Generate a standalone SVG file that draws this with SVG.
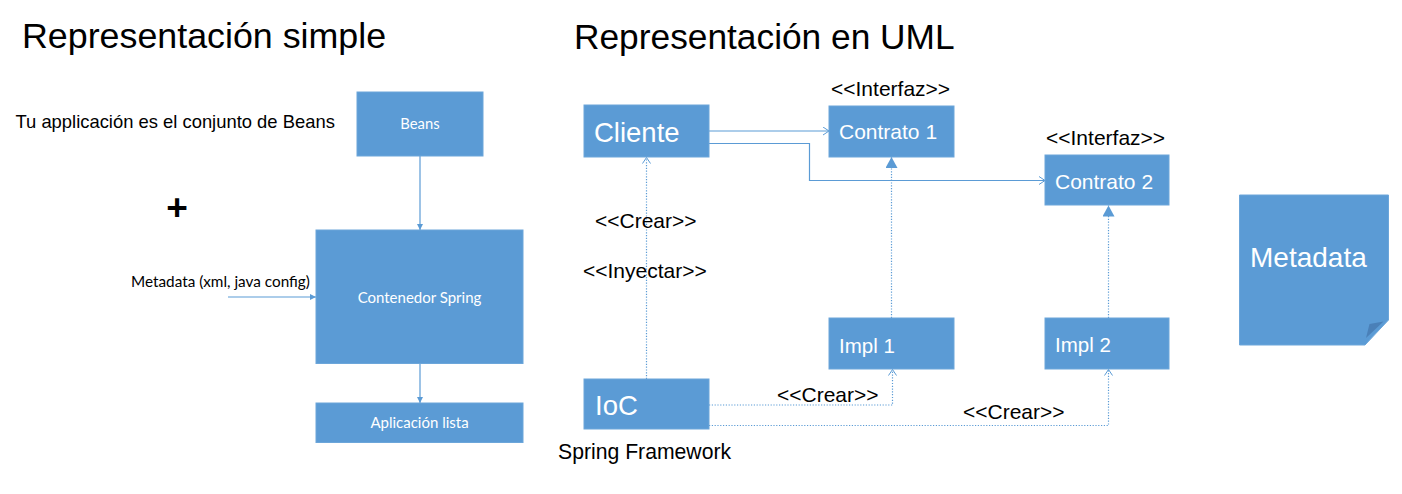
<svg xmlns="http://www.w3.org/2000/svg" width="1402" height="494" viewBox="0 0 1402 494">
<style>
.bg{fill:#ffffff}
.box{fill:#5B9BD5;stroke:#6CA6DA;stroke-width:1}
.t{font-family:"Liberation Sans",Arial,sans-serif;fill:#000000}
.w{font-family:"Liberation Sans",Arial,sans-serif;fill:#ffffff}
.c{font-family:Lato,"Liberation Sans",sans-serif}
.ln{fill:none;stroke:#5B9BD5;stroke-width:1.2}
.dot{fill:none;stroke:#5B9BD5;stroke-width:1.2;stroke-dasharray:1.2 1.6}
</style>
<defs>
<marker id="tri" markerUnits="userSpaceOnUse" markerWidth="7" markerHeight="6" refX="6" refY="3" orient="auto"><path d="M0,0 L6,3 L0,6 z" fill="#5B9BD5"/></marker>
<marker id="open" markerUnits="userSpaceOnUse" markerWidth="8" markerHeight="10" refX="6.5" refY="4.5" orient="auto"><path d="M0.5,0.5 L6.5,4.5 L0.5,8.5" fill="none" stroke="#5B9BD5" stroke-width="1"/></marker>
<marker id="inh" markerUnits="userSpaceOnUse" markerWidth="12" markerHeight="13" refX="11" refY="6" orient="auto"><path d="M0,0 L11,6 L0,12 z" fill="#5B9BD5"/></marker>
</defs>
<rect class="bg" x="0" y="0" width="1402" height="494"/>

<text class="t" x="22" y="48" font-size="35.8">Representación simple</text>
<text class="t" x="574" y="49" font-size="35.3">Representación en UML</text>
<text class="t" x="15.5" y="128" font-size="18.4">Tu applicación es el conjunto de Beans</text>
<text class="t" x="177" y="220" font-size="37" font-weight="bold" text-anchor="middle">+</text>
<text class="t c" x="131" y="287" font-size="15.3">Metadata (xml, java config)</text>

<g id="connectors">
<path class="ln" d="M420,156 L420,230" marker-end="url(#tri)"/>
<path class="ln" d="M420,364 L420,403" marker-end="url(#tri)"/>
<path class="ln" d="M228,297 L316,297" marker-end="url(#tri)"/>
<path class="ln" d="M709,131 L829,131" marker-end="url(#open)"/>
<path class="ln" d="M709,143.5 L809.5,143.5 L809.5,180.5 L1045,180.5" marker-end="url(#open)"/>
<path class="dot" d="M646.5,379 L646.5,157.5" marker-end="url(#open)"/>
<path class="dot" d="M891.5,318 L891.5,157" marker-end="url(#inh)"/>
<path class="dot" d="M1108.5,318 L1108.5,205.5" marker-end="url(#inh)"/>
<path class="dot" d="M709,405 L892.5,405 L892.5,369.5" marker-end="url(#open)"/>
<path class="dot" d="M709,425.5 L1108.5,425.5 L1108.5,369.5" marker-end="url(#open)"/>
<text class="t" x="595" y="228" font-size="21">&lt;&lt;Crear&gt;&gt;</text>
<text class="t" x="583" y="278" font-size="21">&lt;&lt;Inyectar&gt;&gt;</text>
<text class="t" x="777" y="402" font-size="21">&lt;&lt;Crear&gt;&gt;</text>
<text class="t" x="963" y="419" font-size="21">&lt;&lt;Crear&gt;&gt;</text>
</g>

<g id="beans">
<rect class="box" x="357" y="92" width="126" height="64"/>
<text class="w c" x="420" y="129" font-size="14.8" text-anchor="middle">Beans</text>
</g>
<g id="contenedor">
<rect class="box" x="316" y="230" width="207" height="133.5"/>
<text class="w c" x="419.5" y="303" font-size="15" text-anchor="middle">Contenedor Spring</text>
</g>
<g id="aplicacion">
<rect class="box" x="316" y="403" width="207" height="39.5"/>
<text class="w c" x="419.5" y="428" font-size="15" text-anchor="middle">Aplicación lista</text>
</g>

<g id="cliente">
<rect class="box" x="584" y="105" width="125" height="52"/>
<text class="w" x="594" y="142" font-size="27.5">Cliente</text>
</g>
<g id="contrato1">
<text class="t" x="831" y="96" font-size="21">&lt;&lt;Interfaz&gt;&gt;</text>
<rect class="box" x="829" y="106" width="125" height="51"/>
<text class="w" x="839" y="138.5" font-size="21">Contrato 1</text>
</g>
<g id="contrato2">
<text class="t" x="1046" y="145" font-size="21">&lt;&lt;Interfaz&gt;&gt;</text>
<rect class="box" x="1045" y="155" width="124" height="50"/>
<text class="w" x="1055" y="188.5" font-size="21">Contrato 2</text>
</g>
<g id="impl1">
<rect class="box" x="829" y="318" width="125" height="51"/>
<text class="w" x="839" y="352.5" font-size="20.5">Impl 1</text>
</g>
<g id="impl2">
<rect class="box" x="1045" y="318" width="124" height="51"/>
<text class="w" x="1055" y="352" font-size="20.5">Impl 2</text>
</g>
<g id="ioc">
<rect class="box" x="584" y="379" width="125" height="50"/>
<text class="w" x="595" y="414.5" font-size="27.5">IoC</text>
<text class="t" x="558" y="458.5" font-size="21.2">Spring Framework</text>
</g>
<g id="metadata">
<path class="box" d="M1239.5,195 L1388.5,195 L1388.5,320 L1365,345 L1239.5,345 z"/>
<path d="M1366,338 L1369.5,324 L1383.5,321.5 z" fill="#4A80B8"/>
<text class="w" x="1250" y="267" font-size="28">Metadata</text>
</g>
</svg>
